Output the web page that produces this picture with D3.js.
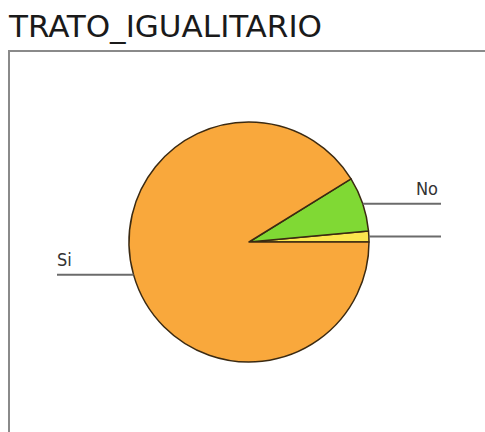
<!DOCTYPE html>
<html>
<head>
<meta charset="utf-8">
<script src="https://cdn.jsdelivr.net/npm/d3@7"></script>
<style>
  html, body { margin: 0; padding: 0; background: #fff; }
  svg { display: block; }
</style>
</head>
<body>
<svg id="chart" width="485" height="432"></svg>
<script>
// data, in drawing order (counter-clockwise from 3 o'clock)
const categories = ['', 'No', 'Si'];
const counts = [1, 5, 62];
const colors = ['#fde64e', '#80d934', '#f9a83c'];

const width = 485, height = 432;
const cx = 249, cy = 242, radius = 120;
const font = '"DejaVu Sans Condensed", "DejaVu Sans", Verdana, sans-serif';

const svg = d3.select('#chart');

// title
svg.append('text')
	.attr('x', 9)
	.attr('y', 37)
	.attr('font-family', font)
	.attr('font-size', 31)
	.attr('fill', '#1a1a1a')
	.attr('textLength', 313)
	.attr('lengthAdjust', 'spacingAndGlyphs')
	.text('TRATO_IGUALITARIO');

// frame
svg.append('path')
	.attr('d', `M9,${height}V51H${width}`)
	.attr('fill', 'none')
	.attr('stroke', '#8a8a8a')
	.attr('stroke-width', 2);

const data = categories.map((c, i) => ({ name: c, value: counts[i], color: colors[i] }));

// start at 3 o'clock and go counter-clockwise
const pie = d3.pie()
	.sort(null)
	.value(d => d.value)
	.startAngle(Math.PI / 2)
	.endAngle(Math.PI / 2 - 2 * Math.PI);

const arc = d3.arc().innerRadius(0).outerRadius(radius);

const g = svg.append('g').attr('transform', `translate(${cx},${cy})`);

const arcs = pie(data);

g.selectAll('path.slice')
	.data(arcs)
	.enter().append('path')
	.attr('class', 'slice')
	.attr('d', arc)
	.attr('fill', d => d.data.color)
	.attr('stroke', '#3b2a12')
	.attr('stroke-width', 1.5)
	.attr('stroke-linejoin', 'round');

// leader lines: horizontal from the rim at the slice's mid angle
const rightEnd = 441 - cx, leftEnd = 57 - cx;

arcs.forEach(d => {
	let a = (d.startAngle + d.endAngle) / 2;
	let x = radius * Math.sin(a), y = -radius * Math.cos(a);
	let right = x > 0;
	let xe = right ? rightEnd : leftEnd;

	g.append('line')
		.attr('x1', x).attr('y1', y)
		.attr('x2', xe).attr('y2', y)
		.attr('stroke', '#6b6b6b')
		.attr('stroke-width', 2);

	if (d.data.name) {
		g.append('text')
			.attr('x', xe - (right ? 3 : 0))
			.attr('y', y - 9)
			.attr('text-anchor', right ? 'end' : 'start')
			.attr('font-family', font)
			.attr('font-size', 18)
			.attr('fill', '#333')
			.text(d.data.name);
	}
});
</script>
</body>
</html>
